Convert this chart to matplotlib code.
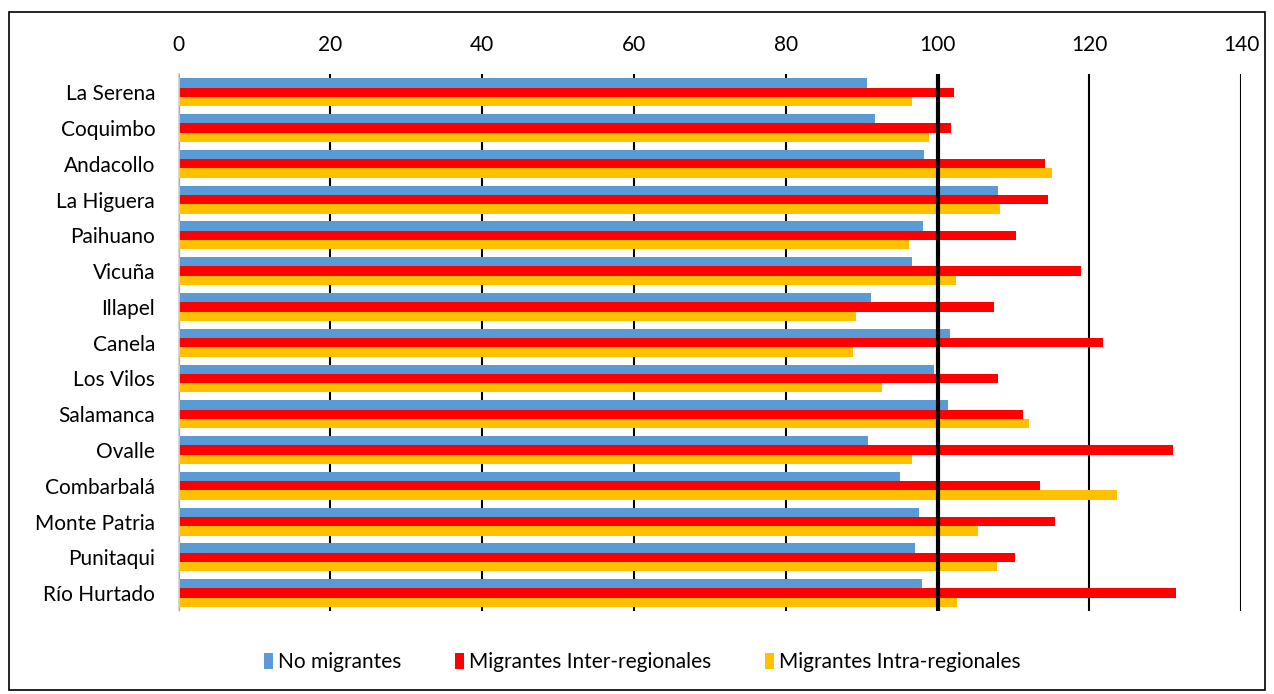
import numpy as np
import matplotlib.pyplot as plt
from matplotlib.patches import Rectangle

# datos
comunas = ["La Serena", "Coquimbo", "Andacollo", "La Higuera", "Paihuano",
           "Vicuña", "Illapel", "Canela", "Los Vilos", "Salamanca",
           "Ovalle", "Combarbalá", "Monte Patria", "Punitaqui", "Río Hurtado"]
no_migrantes = [90.7, 91.8, 98.2, 108.0, 98.1, 96.7, 91.3, 101.7, 99.6, 101.4,
                90.9, 95.0, 97.5, 97.1, 98.0]
inter_regionales = [102.2, 101.8, 114.2, 114.6, 110.3, 118.9, 107.4, 121.8, 108.0, 111.3,
                    131.1, 113.5, 115.5, 110.2, 131.4]
intra_regionales = [96.7, 98.9, 115.1, 108.2, 96.2, 102.5, 89.3, 88.8, 92.7, 112.0,
                    96.6, 123.7, 105.4, 107.8, 102.6]
x_ticks = [0, 20, 40, 60, 80, 100, 120, 140]

FONT = "Lato"
TICK_SIZE = 15

fig = plt.figure(figsize=(12.74, 6.94), dpi=100)
ax = fig.add_axes([0.1403, 0.1196, 0.9741 - 0.1403, 0.8928 - 0.1196])

y = np.arange(len(comunas))
h = 0.26
ax.barh(y - h, no_migrantes, height=h, color="#5B9BD5", label="No migrantes", zorder=2)
ax.barh(y, inter_regionales, height=h, color="#FF0000", label="Migrantes Inter-regionales", zorder=2)
ax.barh(y + h, intra_regionales, height=h, color="#FFC000", label="Migrantes Intra-regionales", zorder=2)

# linea de referencia en 100
ax.axvline(100, color="black", linewidth=3, zorder=3)

ax.set_xlim(0, 140)
ax.set_ylim(len(comunas) - 0.5, -0.5)
ax.set_xticks(x_ticks)
ax.set_yticks(y)
ax.set_yticklabels(comunas, fontfamily=FONT, fontsize=TICK_SIZE)
ax.xaxis.tick_top()
for lab in ax.get_xticklabels():
    lab.set_fontfamily(FONT)
    lab.set_fontsize(TICK_SIZE)
ax.tick_params(axis="x", length=0, pad=14)
ax.tick_params(axis="y", length=0, pad=17)

ax.grid(axis="x", color="black", linewidth=1.5, zorder=0)
ax.set_axisbelow(True)
for s in ["top", "right", "bottom"]:
    ax.spines[s].set_visible(False)
ax.spines["left"].set_color("#d0d0d0")
ax.spines["left"].set_linewidth(1.2)
ax.spines["left"].set_zorder(4)

leg = fig.legend(loc="center", bbox_to_anchor=(0.504, 1 - 662 / 694), ncol=3, frameon=False,
                 handlelength=0.45, handleheight=0.8, handletextpad=0.2, columnspacing=2.6,
                 prop={"family": FONT, "size": TICK_SIZE})

# marco exterior
fig.patches.append(Rectangle((9 / 1274, 1 - 690 / 694), 1256 / 1274, 678 / 694,
                             transform=fig.transFigure, fill=False,
                             edgecolor="black", linewidth=1.2))

fig.savefig("out.png", dpi=100)
